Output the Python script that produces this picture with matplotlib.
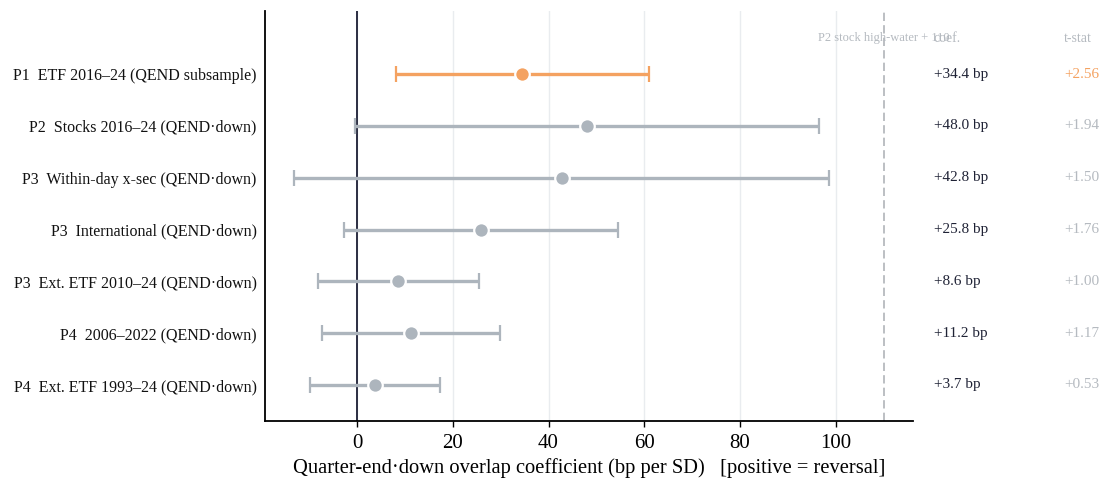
import matplotlib
matplotlib.use("Agg")
import matplotlib.pyplot as plt

plt.rcParams['font.family'] = ['Liberation Serif', 'DejaVu Serif']

labels = [
    "P1  ETF 2016–24 (QEND subsample)",
    "P2  Stocks 2016–24 (QEND·down)",
    "P3  Within-day x-sec (QEND·down)",
    "P3  International (QEND·down)",
    "P3  Ext. ETF 2010–24 (QEND·down)",
    "P4  2006–2022 (QEND·down)",
    "P4  Ext. ETF 1993–24 (QEND·down)",
]
coef = [34.4, 48.0, 42.8, 25.8, 8.6, 11.2, 3.7]
ci_lo = [8.2, -0.4, -13.1, -2.8, -8.2, -7.4, -9.9]
ci_hi = [61.0, 96.4, 98.6, 54.5, 25.5, 29.9, 17.4]
tstat = [2.56, 1.94, 1.50, 1.76, 1.00, 1.17, 0.53]
highlight = [True, False, False, False, False, False, False]
ref_line = 110
ref_label = "P2 stock high-water + 110"
xticks = [0, 20, 40, 60, 80, 100]

ORANGE = "#f4a261"
GREY = "#adb5bd"
DARK = "#2b2d42"
TXT = "#1f2235"
LIGHT = "#b5bac0"

fig = plt.figure(figsize=(11.02, 4.8), dpi=100)
ax = fig.add_axes([265/1102, 1-421/480, (913-265)/1102, (421-11)/480])

n = len(labels)
ys = list(range(n))
for i in range(n):
    c = ORANGE if highlight[i] else GREY
    ax.errorbar(coef[i], ys[i], xerr=[[coef[i]-ci_lo[i]], [ci_hi[i]-coef[i]]],
                fmt='o', color=c, ecolor=c, elinewidth=2.4, capsize=5.6, capthick=2.2,
                markersize=10.5, markeredgecolor='white', markeredgewidth=1.6, zorder=3)

ax.axvline(0, color=DARK, lw=1.4, zorder=2)
ax.axvline(ref_line, color="#b0b4b9", lw=1.2, ls=(0, (5, 2.5)), zorder=1)

ax.set_xlim(-19.2, 116.1)
ax.set_ylim(n - 1 + 0.695, -1.216)
ax.set_xticks(xticks)
ax.set_yticks(ys)
ax.set_yticklabels(labels, fontsize=11.5, color="#111111")
ax.tick_params(axis='y', length=0, pad=6)
ax.tick_params(axis='x', labelsize=15, length=4, width=1, pad=5)
ax.grid(axis='x', color="#e9ecef", lw=1, zorder=0)
ax.set_axisbelow(True)
for s in ['top', 'right']:
    ax.spines[s].set_visible(False)
for s in ['left', 'bottom']:
    ax.spines[s].set_linewidth(1.3)
ax.set_xlabel("Quarter-end·down overlap coefficient (bp per SD)   [positive = reversal]",
              fontsize=14.8, labelpad=4)

hdr_y = -0.695
ax.text(ref_line, hdr_y, ref_label, ha='center', va='center', fontsize=9, color=LIGHT, clip_on=False)
ax.text(123.2, hdr_y, "coef.", ha='center', va='center', fontsize=10, color=LIGHT, clip_on=False)
ax.text(150.5, hdr_y, "t-stat", ha='center', va='center', fontsize=10, color=LIGHT, clip_on=False)
for i in range(n):
    ax.text(120.5, ys[i], f"{coef[i]:+.1f} bp", ha='left', va='center', fontsize=11,
            color=TXT, clip_on=False)
    ax.text(151.3, ys[i], f"{tstat[i]:+.2f}", ha='center', va='center', fontsize=11,
            color=ORANGE if highlight[i] else LIGHT, clip_on=False)

fig.savefig("out.png", dpi=100)
